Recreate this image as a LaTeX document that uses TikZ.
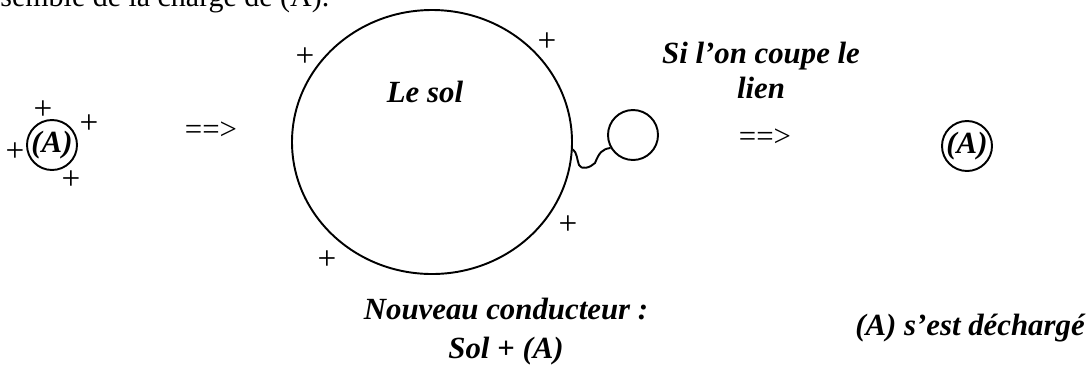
\documentclass[tikz,border=0pt]{standalone}
\usepackage{fontspec}
\usetikzlibrary{shapes.geometric}
\setmainfont{Liberation Serif}
\begin{document}
\begin{tikzpicture}[x=0.4673pt,y=-0.4673pt,
  lbl/.style={font=\fontsize{14.4}{17}\selectfont\bfseries\itshape, inner sep=0pt},
  plus/.style={font=\fontsize{15.5}{17}\selectfont, inner sep=0pt},
  arr/.style={font=\fontsize{14.4}{17}\selectfont, inner sep=0pt},
  ring/.style={draw, line width=0.9pt, inner sep=0pt, circle, minimum size=50*0.4673pt}]
\clip (0,0) rectangle (1091,365);
% cut-off sentence at the top
\node[font=\fontsize{14}{17}\selectfont, inner sep=0pt, anchor=base west] (top) at (0,6) {semble de la charge de (A).};
% left conductor A
\node[ring, lbl] (A1) at (52,145) {(A)};
\node[plus] (p1) at (43,110) {+};
\node[plus] (p2) at (89,124) {+};
\node[plus] (p3) at (15,152) {+};
\node[plus] (p4) at (71,180) {+};
\node[arr] (ar1) at (211,131) {==>};
% ground
\node[draw, line width=0.9pt, ellipse, minimum width=280*0.4673pt, minimum height=264*0.4673pt, inner sep=0pt] (sol) at (432,142) {};
\node[lbl, anchor=base] (lesol) at (425,102) {Le sol};
\node[plus] (p5) at (305,57) {+};
\node[plus] (p6) at (547,42) {+};
\node[plus] (p7) at (568,225) {+};
\node[plus] (p8) at (327,260) {+};
% small sphere and wire
\node[ring] (A2) at (633,135) {};
\draw[line width=0.9pt] (sol.-3) .. controls (577,152) and (577,160) .. (579,165)
  .. controls (581,170) and (590,168) .. (595,163)
  .. controls (599,153) and (602,149) .. (A2.210);
% text
\node[lbl, align=center, anchor=base] (cut) at (761,98) {Si l’on coupe le\\[-1pt]lien};
\node[arr] (ar2) at (765,138) {==>};
\node[ring, lbl] (A3) at (967,146) {(A)};
\node[lbl, align=center, anchor=base] (nc) at (506,358) {Nouveau conducteur :\\[1pt]Sol + (A)};
\node[lbl, anchor=base] (dech) at (970,335) {(A) s’est déchargé};
\end{tikzpicture}
\end{document}
